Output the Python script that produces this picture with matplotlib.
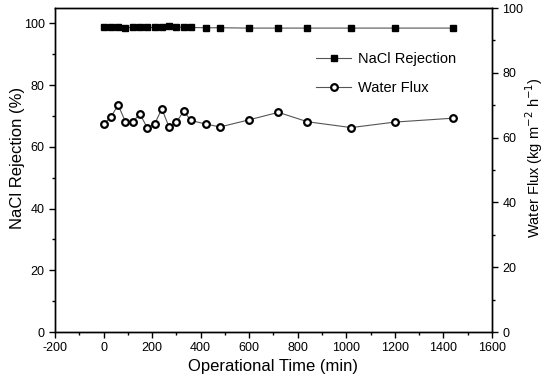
import matplotlib
matplotlib.use("Agg")
import matplotlib.pyplot as plt
from matplotlib.ticker import MultipleLocator
from matplotlib.lines import Line2D

plt.rcParams['font.family'] = ['Liberation Sans', 'DejaVu Sans']
plt.rcParams['axes.unicode_minus'] = False

time_min = [0, 30, 60, 90, 120, 150, 180, 210, 240, 270, 300, 330, 360,
            420, 480, 600, 720, 840, 1020, 1200, 1440]
nacl_rejection = [98.7, 98.8, 98.7, 98.6, 98.7, 98.7, 98.7, 98.7, 98.8, 99.1, 98.9, 98.7, 98.7,
                  98.6, 98.6, 98.5, 98.5, 98.5, 98.5, 98.5, 98.5]
water_flux = [64.2, 66.3, 70.1, 64.9, 64.9, 67.3, 63.0, 64.1, 68.9, 63.2, 64.7, 68.2, 65.3,
              64.2, 63.3, 65.5, 67.8, 64.9, 63.1, 64.8, 66.0]

fig = plt.figure(figsize=(5.5, 3.88), dpi=100)
ax = fig.add_axes([0.1, 0.1443, 0.7945, 0.835])
ax2 = ax.twinx()

line_col = '#555555'
sq_kw = dict(marker='s', ms=5, mfc='black', mec='black')
ci_kw = dict(marker='o', ms=4.8, mfc='white', mec='black', mew=1.6)
ax.plot(time_min, nacl_rejection, color=line_col, lw=0.8, zorder=3, **sq_kw)
ax2.plot(time_min, water_flux, color=line_col, lw=0.8, zorder=3, **ci_kw)

ax.set_xlim(-200, 1600)
ax.set_ylim(0, 105)
ax2.set_ylim(0, 100)
ax.xaxis.set_major_locator(MultipleLocator(200))
ax.xaxis.set_minor_locator(MultipleLocator(100))
ax.yaxis.set_major_locator(MultipleLocator(20))
ax.yaxis.set_minor_locator(MultipleLocator(10))
ax2.yaxis.set_major_locator(MultipleLocator(20))
ax2.yaxis.set_minor_locator(MultipleLocator(10))

for a in (ax, ax2):
    for s in a.spines.values():
        s.set_linewidth(1.0)
    a.tick_params(which='major', direction='out', length=4, width=1, labelsize=9)
    a.tick_params(which='minor', direction='out', length=2.5, width=1)

ax.set_xlabel('Operational Time (min)', fontsize=12, labelpad=3)
ax.set_ylabel('NaCl Rejection (%)', fontsize=12)
ax.yaxis.set_label_coords(-0.069, 0.537)
ax2.set_ylabel('Water Flux (kg m$^{-2}$ h$^{-1}$)', fontsize=10.5)
ax2.yaxis.set_label_coords(1.072, 0.537)

handles = [Line2D([], [], color=line_col, lw=0.8, **sq_kw),
           Line2D([], [], color=line_col, lw=0.8, **ci_kw)]
leg = ax.legend(handles, ['NaCl Rejection', 'Water Flux'], loc='upper left',
                bbox_to_anchor=(303 / 550, 1 - 39 / 388), bbox_transform=fig.transFigure,
                frameon=False, fontsize=10.5, handlelength=2.4, labelspacing=1.05,
                handletextpad=0.5)

fig.savefig('out.png', dpi=100)
